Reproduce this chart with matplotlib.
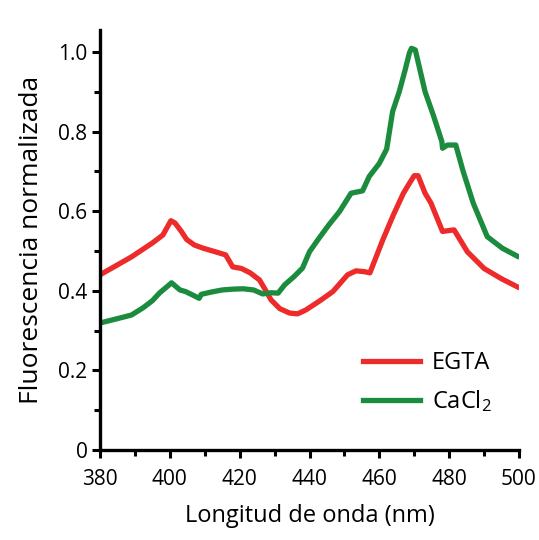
import matplotlib
matplotlib.use("Agg")
import matplotlib.pyplot as plt
from matplotlib.ticker import MultipleLocator

plt.rcParams['font.family'] = ['Open Sans', 'DejaVu Sans']
plt.rcParams['mathtext.fontset'] = 'custom'
plt.rcParams['mathtext.rm'] = 'Open Sans'
plt.rcParams['mathtext.default'] = 'regular'

# wavelength (nm) and normalized fluorescence
egta_x = [380, 383, 389, 395, 398, 400.3, 401.5, 403.3, 404.8, 407, 409.5, 413, 416,
          418, 420.5, 423, 425.7, 427.5, 429, 431.5, 434.3, 436.6, 439, 443, 446.7,
          450.9, 453.3, 455.7, 457.3, 461, 464, 466.9, 468.9, 470, 471.1, 473.1,
          474.8, 478.1, 481.4, 483, 485.2, 490, 495, 499.5]
egta_y = [0.44, 0.455, 0.485, 0.52, 0.54, 0.576, 0.57, 0.549, 0.529, 0.515, 0.507,
          0.498, 0.49, 0.46, 0.456, 0.445, 0.427, 0.40, 0.377, 0.355, 0.344, 0.342,
          0.352, 0.375, 0.398, 0.44, 0.45, 0.448, 0.445, 0.528, 0.59, 0.645, 0.674,
          0.689, 0.689, 0.645, 0.62, 0.549, 0.553, 0.53, 0.498, 0.456, 0.43, 0.41]

cacl2_x = [380, 385, 389, 392.3, 395, 397, 400.5, 402.9, 404.5, 406.6, 408.4, 409,
           412, 415, 418, 421, 424, 426.6, 429, 431, 432.9, 435.5, 438, 440, 442.4,
           445.5, 448.6, 451.9, 455.2, 457.1, 460, 462.1, 463.8, 465.7, 467.4, 468.6,
           469.2, 470.3, 473.1, 475.5, 477.9, 478.1, 479.5, 481.9, 484, 486.9, 490.9,
           495.2, 499.5]
cacl2_y = [0.319, 0.33, 0.339, 0.357, 0.375, 0.394, 0.42, 0.402, 0.398, 0.389,
           0.381, 0.391, 0.397, 0.402, 0.404, 0.405, 0.402, 0.392, 0.395, 0.394,
           0.415, 0.435, 0.457, 0.498, 0.528, 0.565, 0.599, 0.645, 0.651, 0.687,
           0.72, 0.756, 0.85, 0.90, 0.955, 0.997, 1.009, 1.005, 0.90, 0.84, 0.775,
           0.758, 0.766, 0.766, 0.70, 0.62, 0.536, 0.507, 0.487]

red = '#ee2b2b'
green = '#1b8b3d'

fig = plt.figure(figsize=(5.39, 5.40), dpi=100)
ax = fig.add_axes([100 / 539, 90 / 540, 419 / 539, 420 / 540])

ax.plot(egta_x, egta_y, color=red, lw=3.8, label='EGTA')
ax.plot(cacl2_x, cacl2_y, color=green, lw=3.8, label=r'CaCl$_2$')

ax.set_xlim(380, 500)
ax.set_ylim(0, 1.055)
ax.xaxis.set_major_locator(MultipleLocator(20))
ax.xaxis.set_minor_locator(MultipleLocator(10))
ax.yaxis.set_minor_locator(MultipleLocator(0.1))
ax.set_yticks([0, 0.2, 0.4, 0.6, 0.8, 1.0])
ax.set_yticklabels(['0', '0.2', '0.4', '0.6', '0.8', '1.0'])

for s in ['top', 'right']:
    ax.spines[s].set_visible(False)
for s in ['left', 'bottom']:
    ax.spines[s].set_linewidth(2.4)

ax.tick_params(which='major', length=6, width=2.2, labelsize=15)
ax.tick_params(which='minor', length=4, width=2.2)
ax.tick_params(axis='x', pad=8)
ax.tick_params(axis='y', pad=3)

ax.set_xlabel('Longitud de onda (nm)', fontsize=17, labelpad=10)
ax.set_ylabel('Fluorescencia normalizada', fontsize=19, labelpad=10)

ax.legend(loc='lower right', bbox_to_anchor=(0.985, 0.035), frameon=False,
          fontsize=17, handlelength=2.4, handletextpad=0.5, labelspacing=0.55)

fig.savefig('out.png', dpi=100)
